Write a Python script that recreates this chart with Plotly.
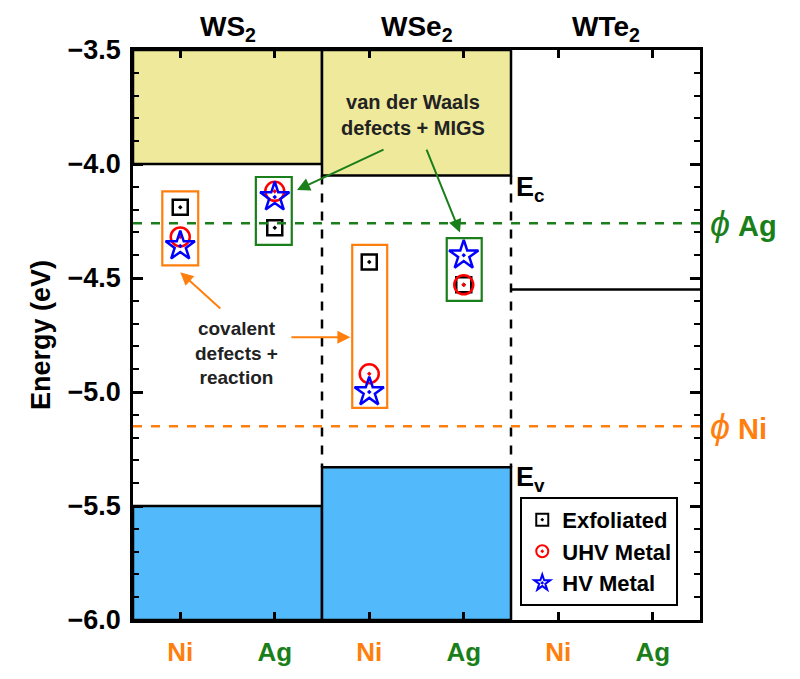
import plotly.graph_objects as go

# ---- data ----
materials = ["WS<sub>2</sub>", "WSe<sub>2</sub>", "WTe<sub>2</sub>"]
metal_labels = ["Ni", "Ag", "Ni", "Ag", "Ni", "Ag"]
metal_colors = ["#FF7F0E", "#1A7F1A", "#FF7F0E", "#1A7F1A", "#FF7F0E", "#1A7F1A"]
metal_pos = [0.5, 1.5, 2.5, 3.5, 4.5, 5.5]

point_x = [0.5, 1.5, 2.5, 3.5]        # WS2-Ni, WS2-Ag, WSe2-Ni, WSe2-Ag
exfoliated = [-4.19, -4.28, -4.43, -4.53]
uhv_metal = [-4.32, -4.12, -4.92, -4.53]
hv_metal = [-4.36, -4.145, -5.00, -4.40]

cb_edge = [-4.00, -4.05]   # WS2, WSe2 conduction band
vb_edge = [-5.50, -5.33]   # WS2, WSe2 valence band
wte2_level = -4.55
phi_ag = -4.26
phi_ni = -5.15

# bounding boxes around point groups: x0, x1, y0, y1
group_boxes = [
    (0.31, 0.69, -4.445, -4.12),
    (1.30, 1.68, -4.355, -4.057),
    (2.32, 2.69, -5.07, -4.355),
    (3.32, 3.69, -4.60, -4.325),
]
group_colors = ["#FF7F0E", "#1A7F1A", "#FF7F0E", "#1A7F1A"]

YELLOW = "#EFE99C"
BLUE = "#52BAFA"
ORANGE = "#FF7F0E"
GREEN = "#1A7F1A"
FONT = "Arial, Liberation Sans, sans-serif"

fig = go.Figure()

shapes = []
for i, y0 in enumerate(cb_edge):
    shapes.append(dict(type="rect", xref="x", yref="y", x0=2 * i, x1=2 * i + 2, y0=y0, y1=-3.5,
                       fillcolor=YELLOW, line=dict(color="black", width=2.5), layer="below"))
for i, y1 in enumerate(vb_edge):
    shapes.append(dict(type="rect", xref="x", yref="y", x0=2 * i, x1=2 * i + 2, y0=-6.0, y1=y1,
                       fillcolor=BLUE, line=dict(color="black", width=2.5), layer="below"))
for xd in [2, 4]:
    shapes.append(dict(type="line", xref="x", yref="y", x0=xd, x1=xd, y0=cb_edge[1], y1=vb_edge[1],
                       line=dict(color="black", width=2.5, dash="dash")))
shapes.append(dict(type="line", xref="x", yref="y", x0=4, x1=6, y0=wte2_level, y1=wte2_level,
                   line=dict(color="black", width=2.5)))
shapes.append(dict(type="line", xref="x", yref="y", x0=0, x1=6, y0=phi_ag, y1=phi_ag,
                   line=dict(color=GREEN, width=2.5, dash="dash")))
shapes.append(dict(type="line", xref="x", yref="y", x0=0, x1=6, y0=phi_ni, y1=phi_ni,
                   line=dict(color=ORANGE, width=2.5, dash="dash")))
for (x0, x1, y0, y1), c in zip(group_boxes, group_colors):
    shapes.append(dict(type="rect", xref="x", yref="y", x0=x0, x1=x1, y0=y0, y1=y1,
                       line=dict(color=c, width=2.2)))

fig.add_trace(go.Scatter(x=point_x, y=exfoliated, mode="markers", name="Exfoliated",
                         marker=dict(symbol="square-open-dot", size=15, color="black",
                                     line=dict(width=2.5, color="black"))))
fig.add_trace(go.Scatter(x=point_x, y=uhv_metal, mode="markers", name="UHV Metal",
                         marker=dict(symbol="circle-open-dot", size=19, color="red",
                                     line=dict(width=2.5, color="red"))))
fig.add_trace(go.Scatter(x=point_x, y=hv_metal, mode="markers", name="HV Metal",
                         marker=dict(symbol="star-open-dot", size=22, color="blue",
                                     line=dict(width=2.5, color="blue"))))

annotations = []
for i, m in enumerate(materials):
    annotations.append(dict(x=2 * i + 1, y=1, xref="x", yref="paper", yanchor="bottom", yshift=2,
                            text="<b>%s</b>" % m, showarrow=False,
                            font=dict(size=28, color="black", family=FONT)))
annotations.append(dict(x=4, y=cb_edge[1], xref="x", yref="y", xanchor="left", yanchor="middle",
                        xshift=3, yshift=-14, text="<b>E<sub>c</sub></b>", showarrow=False,
                        font=dict(size=27, color="black", family=FONT)))
annotations.append(dict(x=4, y=vb_edge[1], xref="x", yref="y", xanchor="left", yanchor="middle",
                        xshift=3, yshift=-12, text="<b>E<sub>v</sub></b>", showarrow=False,
                        font=dict(size=27, color="black", family=FONT)))
annotations.append(dict(x=1, y=phi_ag, xref="paper", yref="y", xanchor="left", yanchor="middle",
                        xshift=8, text="<i><span style='font-size:36px'>ϕ</span></i> <b>Ag</b>",
                        showarrow=False, font=dict(size=29, color=GREEN, family=FONT)))
annotations.append(dict(x=1, y=phi_ni, xref="paper", yref="y", xanchor="left", yanchor="middle",
                        xshift=8, text="<i><span style='font-size:36px'>ϕ</span></i> <b>Ni</b>",
                        showarrow=False, font=dict(size=29, color=ORANGE, family=FONT)))
annotations.append(dict(x=2.96, y=-3.785, xref="x", yref="y", text="<b>van der Waals<br>defects + MIGS</b>",
                        showarrow=False, font=dict(size=20, color="#222222", family=FONT)))
annotations.append(dict(x=1.09, y=-4.83, xref="x", yref="y", text="<b>covalent<br>defects +<br>reaction</b>",
                        showarrow=False, font=dict(size=19, color="#222222", family=FONT)))
arrows = [
    (1.735, -4.114, 2.667, -3.934, GREEN),
    (3.46, -4.30, 3.10, -3.93, GREEN),
    (0.50, -4.475, 0.94, -4.64, ORANGE),
    (2.30, -4.76, 1.66, -4.76, ORANGE),
]
for hx, hy, tx, ty, c in arrows:
    annotations.append(dict(x=hx, y=hy, ax=tx, ay=ty, xref="x", yref="y", axref="x", ayref="y",
                            text="", showarrow=True, arrowhead=2, arrowsize=1.3, arrowwidth=2,
                            arrowcolor=c))

fig.update_layout(
    width=800, height=679,
    margin=dict(l=125, r=108, t=42, b=67, autoexpand=False),
    paper_bgcolor="white", plot_bgcolor="white",
    shapes=shapes, annotations=annotations,
    font=dict(family=FONT, color="black"),
    showlegend=True,
    legend=dict(x=0.683, y=0.216, xanchor="left", yanchor="top",
                bordercolor="black", borderwidth=2, bgcolor="white",
                font=dict(size=22, family=FONT, color="black", weight="bold"),
                itemsizing="constant", tracegroupgap=0, itemwidth=30),
)
fig.update_xaxes(
    range=[0, 6], tickvals=metal_pos,
    ticktext=["<span style='color:%s'><b>%s</b></span>" % (c, t) for t, c in zip(metal_labels, metal_colors)],
    tickfont=dict(size=26, family=FONT), ticklabelstandoff=7,
    ticks="inside", ticklen=8, tickwidth=2.5, tickcolor="black",
    showline=True, linewidth=2.5, linecolor="black", mirror="ticks",
    showgrid=False, zeroline=False,
)
fig.update_yaxes(
    range=[-6.0, -3.5], tickmode="linear", tick0=-6.0, dtick=0.5, tickformat=".1f",
    tickfont=dict(size=27, family=FONT, weight="bold"), ticklabelstandoff=4,
    ticks="inside", ticklen=10, tickwidth=2.5, tickcolor="black",
    minor=dict(ticks="inside", ticklen=6, tickwidth=2, tickcolor="black", dtick=0.1, showgrid=False),
    showline=True, linewidth=2.5, linecolor="black", mirror="ticks",
    showgrid=False, zeroline=False,
    title=dict(text="<b>Energy (eV)</b>", font=dict(size=27, family=FONT), standoff=10),
)

fig.write_html("out.html")
